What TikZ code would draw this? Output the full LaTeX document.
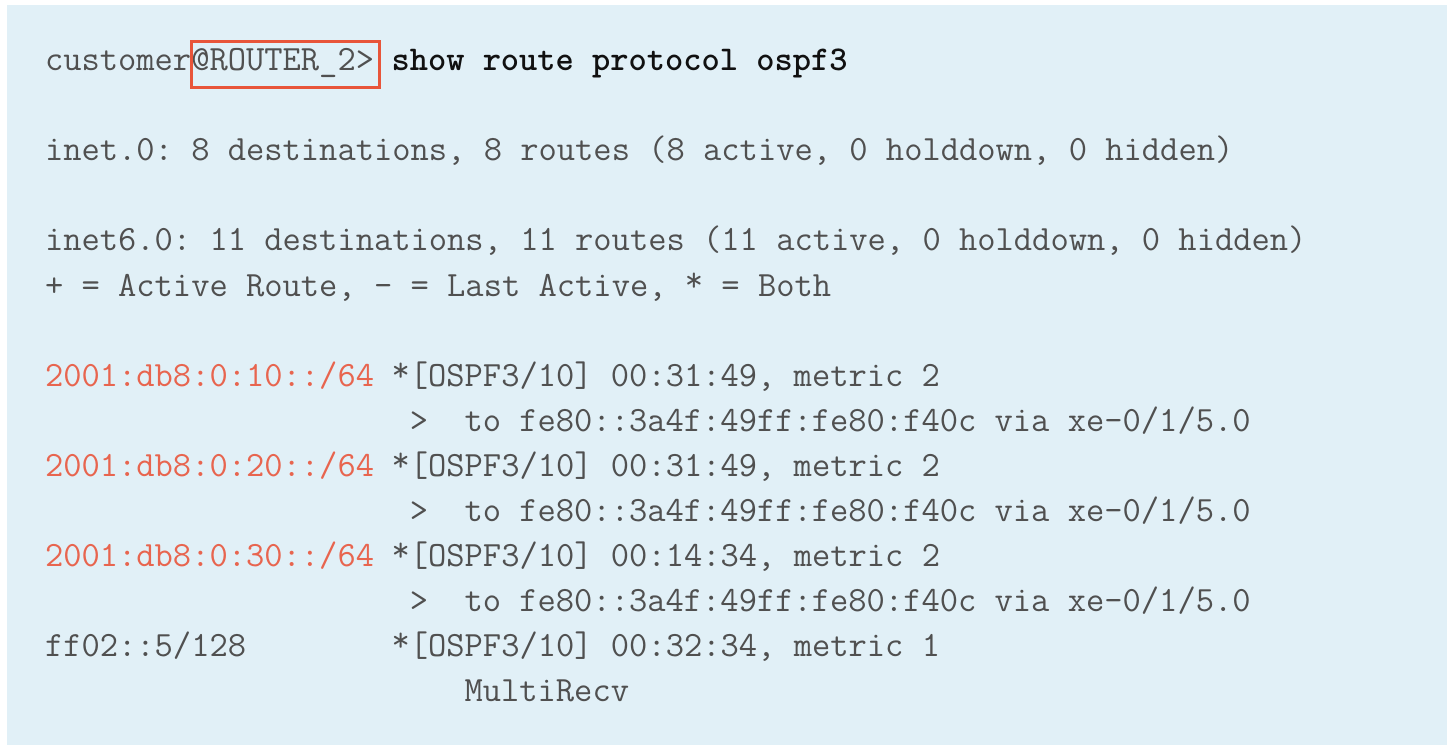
\documentclass[tikz,border=0pt]{standalone}
\usepackage{fontspec}
\frenchspacing
\definecolor{panel}{HTML}{E1F0F7}
\definecolor{txt}{HTML}{505050}
\definecolor{pfx}{HTML}{E8654F}
\definecolor{hlc}{HTML}{E8553A}
\definecolor{cmd}{HTML}{111111}
\newcommand{\cw}{18.24}
\newcommand{\lx}{45}
\newcommand{\by}{70.5}
\newcommand{\ls}{45.1}
\newcommand{\hiast}{\raisebox{5pt}{*}}
\tikzset{
  linetxt/.style={anchor=base west, inner sep=0pt, outer sep=0pt, text=txt,
    font=\fontsize{35.5}{40}\selectfont\ttfamily\frenchspacing},
  pfxtxt/.style={linetxt, text=pfx},
  cmdtxt/.style={linetxt, text=cmd, font=\fontsize{34.74}{40}\selectfont\ttfamily\bfseries\frenchspacing},
  hlbox/.style={draw=hlc, line width=2.7pt, inner sep=0pt, minimum width=188.3pt, minimum height=46.3pt}
}
\begin{document}
\begin{tikzpicture}[x=1pt, y=-1pt]
\useasboundingbox (0,0) rectangle (1454,752);
\fill[white] (0,0) rectangle (1454,752);
\fill[panel] (7,5) rectangle (1447,745);
% line 0
\node[linetxt] (l0a) at ({\lx+0*\cw},{\by+0*\ls}) {customer@ROUTER\_2>};
\node[cmdtxt] (l0b) at ({\lx+19*\cw},{\by+0*\ls}) {show route protocol ospf3};
\node[hlbox] (hl) at (285.5,64.5) {};
% line 2
\node[linetxt] (l2) at ({\lx},{\by+2*\ls}) {inet.0: 8 destinations, 8 routes (8 active, 0 holddown, 0 hidden)};
% line 4,5
\node[linetxt] (l4) at ({\lx},{\by+4*\ls}) {inet6.0: 11 destinations, 11 routes (11 active, 0 holddown, 0 hidden)};
\node[linetxt] (l5) at ({\lx},{\by+5*\ls}) {+ = Active Route, - = Last Active, \hiast{} = Both};
% routes
\node[pfxtxt] (r1a) at ({\lx},{\by+7*\ls}) {2001:db8:0:10::/64};
\node[linetxt] (r1b) at ({\lx+19*\cw},{\by+7*\ls}) {\hiast[OSPF3/10] 00:31:49, metric 2};
\node[linetxt] (r1c) at ({\lx+20*\cw},{\by+8*\ls}) {>};
\node[linetxt] (r1d) at ({\lx+23*\cw},{\by+8*\ls}) {to fe80::3a4f:49ff:fe80:f40c via xe-0/1/5.0};
\node[pfxtxt] (r2a) at ({\lx},{\by+9*\ls}) {2001:db8:0:20::/64};
\node[linetxt] (r2b) at ({\lx+19*\cw},{\by+9*\ls}) {\hiast[OSPF3/10] 00:31:49, metric 2};
\node[linetxt] (r2c) at ({\lx+20*\cw},{\by+10*\ls}) {>};
\node[linetxt] (r2d) at ({\lx+23*\cw},{\by+10*\ls}) {to fe80::3a4f:49ff:fe80:f40c via xe-0/1/5.0};
\node[pfxtxt] (r3a) at ({\lx},{\by+11*\ls}) {2001:db8:0:30::/64};
\node[linetxt] (r3b) at ({\lx+19*\cw},{\by+11*\ls}) {\hiast[OSPF3/10] 00:14:34, metric 2};
\node[linetxt] (r3c) at ({\lx+20*\cw},{\by+12*\ls}) {>};
\node[linetxt] (r3d) at ({\lx+23*\cw},{\by+12*\ls}) {to fe80::3a4f:49ff:fe80:f40c via xe-0/1/5.0};
\node[linetxt] (r4a) at ({\lx},{\by+13*\ls}) {ff02::5/128};
\node[linetxt] (r4b) at ({\lx+19*\cw},{\by+13*\ls}) {\hiast[OSPF3/10] 00:32:34, metric 1};
\node[linetxt] (r4c) at ({\lx+23*\cw},{\by+14*\ls}) {MultiRecv};
\end{tikzpicture}
\end{document}
